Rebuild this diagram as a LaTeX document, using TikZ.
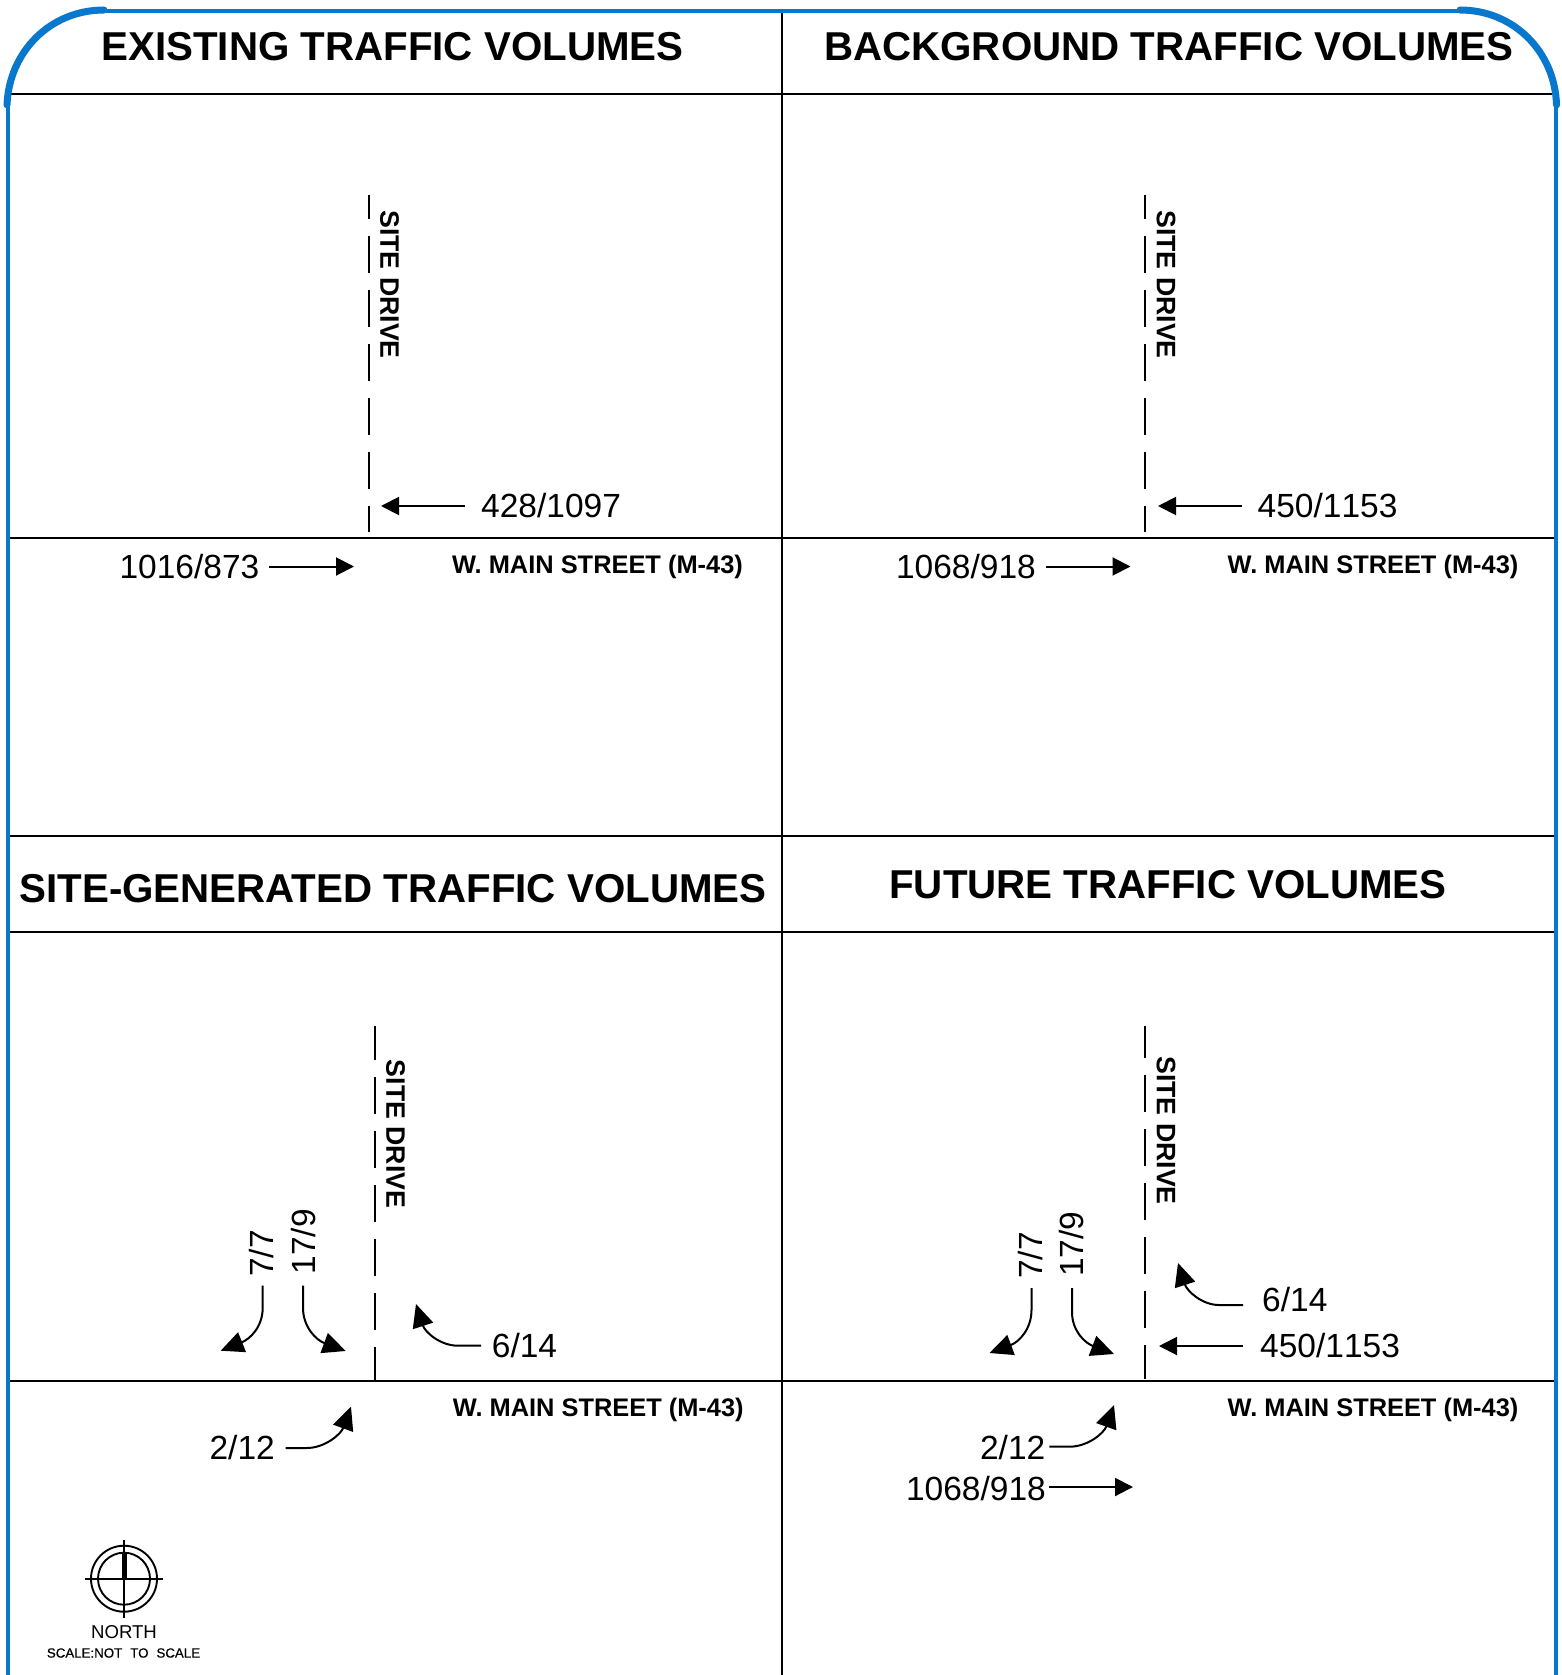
\documentclass[tikz,border=0pt]{standalone}
\usepackage{fontspec}
\setmainfont{Liberation Sans}
\newfontfamily\numfont[Kerning=Off]{Liberation Sans}
\newfontfamily\scalefont[FakeBold=0.5]{Liberation Sans}
\usetikzlibrary{arrows.meta}
\definecolor{frameblue}{HTML}{0778CC}
\tikzset{
  x=1pt,y=-1pt,
  frameline/.style={draw=frameblue,line width=4.5pt},
  framearc/.style={draw=frameblue,line width=7pt,line cap=round},
  rule/.style={draw=black,line width=2pt},
  drive/.style={draw=black,line width=2pt,dash pattern=on 37pt off 17pt},
  flow/.style={draw=black,line width=2pt,-{Triangle[length=18pt,width=18pt]}},
  bentflow/.style={draw=black,line width=2pt,-{Triangle[length=23pt,width=21pt]}},
  titletext/.style={inner sep=0pt,font=\bfseries\fontsize{40.3}{46}\selectfont,text height=28.8pt,text depth=0pt},
  streettext/.style={inner sep=0pt,font=\bfseries\fontsize{25.4}{30}\selectfont,text height=18.2pt,text depth=0pt},
  sitetext/.style={inner sep=0pt,rotate=-90,font=\bfseries\fontsize{26.7}{30}\selectfont,text height=19.1pt,text depth=0pt},
  numtext/.style={inner sep=0pt,font=\numfont\fontsize{33.5}{40}\selectfont,text height=24pt,text depth=0pt},
  uptext/.style={numtext,rotate=90,anchor=west},
}
\begin{document}
\begin{tikzpicture}
\useasboundingbox[fill=white] (0,0) rectangle (1562,1675);
% frame
\coordinate (tl1) at (7,105); \coordinate (tl2) at (104,10);
\coordinate (tr1) at (1460,10); \coordinate (tr2) at (1556.5,105);
\begin{scope}
\clip (0,0) rectangle (1562,1675);
\draw[rule] (782,11) -- (782,1675);
\foreach \yy in {94,537.6,835.5,931.5,1380.5} \draw[rule] (8,\yy) -- (1556,\yy);
\draw[frameline] (8,105) -- (8,1675);
\draw[frameline] (1556,105) -- (1556,1675);
\draw[frameline] (104,11) -- (1460,11);
\end{scope}
\draw[framearc] (tl1) .. controls (9,52) and (50,10) .. (tl2);
\draw[framearc] (tr1) .. controls (1514,10) and (1555,52) .. (tr2);
% titles
\node[titletext] (t1) at (392.5,46) {EXISTING TRAFFIC VOLUMES};
\node[titletext] (t2) at (1169,46) {BACKGROUND TRAFFIC VOLUMES};
\node[titletext] (t3) at (393,888) {SITE-GENERATED TRAFFIC VOLUMES};
\node[titletext] (t4) at (1168,884.2) {FUTURE TRAFFIC VOLUMES};
% panel 1
\draw[drive,dash phase=12.4pt] (368.5,194.7) -- (368.5,532);
\node[sitetext] (s1) at (390,284.5) {SITE DRIVE};
\node[streettext] (m1) at (597.5,564.5) {W. MAIN STREET (M-43)};
\node[numtext,anchor=west] (a1) at (481,505.5) {428/1097};
\node[numtext,anchor=east] (b1) at (259.5,566) {1016/873};
\coordinate (a1s) at (465,506); \coordinate (a1e) at (381,506);
\coordinate (b1s) at (269,566.5); \coordinate (b1e) at (354,566.5);
\draw[flow] (a1s) -- (a1e);
\draw[flow] (b1s) -- (b1e);
% panel 2
\draw[drive,dash phase=12.4pt] (1145,194.7) -- (1145,532);
\node[sitetext] (s2) at (1166.5,284.5) {SITE DRIVE};
\node[streettext] (m2) at (1373,564.5) {W. MAIN STREET (M-43)};
\node[numtext,anchor=west] (a2) at (1257.5,505.5) {450/1153};
\node[numtext,anchor=east] (b2) at (1036,566) {1068/918};
\coordinate (a2s) at (1242,506); \coordinate (a2e) at (1158,506);
\coordinate (b2s) at (1046,566.5); \coordinate (b2e) at (1130.5,566.5);
\draw[flow] (a2s) -- (a2e);
\draw[flow] (b2s) -- (b2e);
% panel 3
\draw[drive,dash phase=2.6pt] (375,1025.6) -- (375,1380);
\node[sitetext] (s3) at (396,1134) {SITE DRIVE};
\node[streettext] (m3) at (598.3,1407.5) {W. MAIN STREET (M-43)};
\node[uptext] (c3) at (261,1277) {7/7};
\node[uptext] (d3) at (303,1274.5) {17/9};
\node[numtext,anchor=west] (e3) at (491.7,1345) {6/14};
\node[numtext,anchor=east] (f3) at (275,1447) {2/12};
\coordinate (c3s) at (262.7,1285.7); \coordinate (c3e) at (220.7,1350.7);
\coordinate (d3s) at (303,1285.7); \coordinate (d3e) at (345.7,1351);
\coordinate (e3s) at (481,1345.7); \coordinate (e3e) at (416,1304);
\coordinate (f3s) at (285.7,1448); \coordinate (f3e) at (351,1406.7);
\draw[bentflow] (c3s) -- ++(0,22) .. controls (262.7,1327) and (250,1339) .. (c3e);
\draw[bentflow] (d3s) -- ++(0,22) .. controls (303,1327) and (316,1340) .. (d3e);
\draw[bentflow] (e3s) -- ++(-23,0) .. controls (440,1345.7) and (425,1332) .. (e3e);
\draw[bentflow] (f3s) -- ++(21,0) .. controls (325,1448) and (341,1434) .. (f3e);
% panel 4
\draw[drive,dash phase=4.6pt] (1145,1025.6) -- (1145,1379);
\node[sitetext] (s4) at (1166.5,1130.5) {SITE DRIVE};
\node[streettext] (m4) at (1373,1407.5) {W. MAIN STREET (M-43)};
\node[uptext] (c4) at (1030,1279) {7/7};
\node[uptext] (d4) at (1071,1277) {17/9};
\node[numtext,anchor=west] (e4) at (1262,1299) {6/14};
\node[numtext,anchor=west] (g4) at (1260,1345.7) {450/1153};
\node[numtext,anchor=east] (f4) at (1045.5,1447) {2/12};
\node[numtext,anchor=east] (h4) at (1046,1488) {1068/918};
\coordinate (c4s) at (1031.5,1288); \coordinate (c4e) at (989.5,1353);
\coordinate (d4s) at (1072,1288); \coordinate (d4e) at (1114,1354);
\coordinate (e4s) at (1243,1305); \coordinate (e4e) at (1178,1263);
\coordinate (g4s) at (1243,1346); \coordinate (g4e) at (1159,1346);
\coordinate (f4s) at (1049.4,1446.7); \coordinate (f4e) at (1114,1405);
\coordinate (h4s) at (1048.7,1487); \coordinate (h4e) at (1133,1487);
\draw[bentflow] (c4s) -- ++(0,22) .. controls (1031.5,1329) and (1019,1342) .. (c4e);
\draw[bentflow] (d4s) -- ++(0,24) .. controls (1072,1331) and (1085,1343) .. (d4e);
\draw[bentflow] (e4s) -- ++(-24,0) .. controls (1202,1305) and (1187,1291) .. (e4e);
\draw[bentflow] (f4s) -- ++(20,0) .. controls (1088,1446.7) and (1104,1433) .. (f4e);
\draw[flow] (g4s) -- (g4e);
\draw[flow] (h4s) -- (h4e);
% compass
\coordinate (cc) at (124,1578.7);
\draw[line width=1.9pt] (cc) circle[radius=33];
\draw[line width=1.9pt] (cc) circle[radius=26];
\draw[line width=1.9pt] (85,1578.7) -- (163.3,1578.7);
\draw[line width=1.9pt] (124,1540) -- (124,1617.7);
\draw[line width=5pt] (124,1553) -- (124,1578);
\node[inner sep=0pt,font=\fontsize{18.6}{22}\selectfont] (north) at (124,1632.5) {NORTH};
\node[inner sep=0pt,font=\scalefont\fontsize{13.3}{16}\selectfont] (scale) at (123.5,1653) {SCALE:NOT\hspace{0.6em}TO\hspace{0.6em}SCALE};
\end{tikzpicture}
\end{document}
